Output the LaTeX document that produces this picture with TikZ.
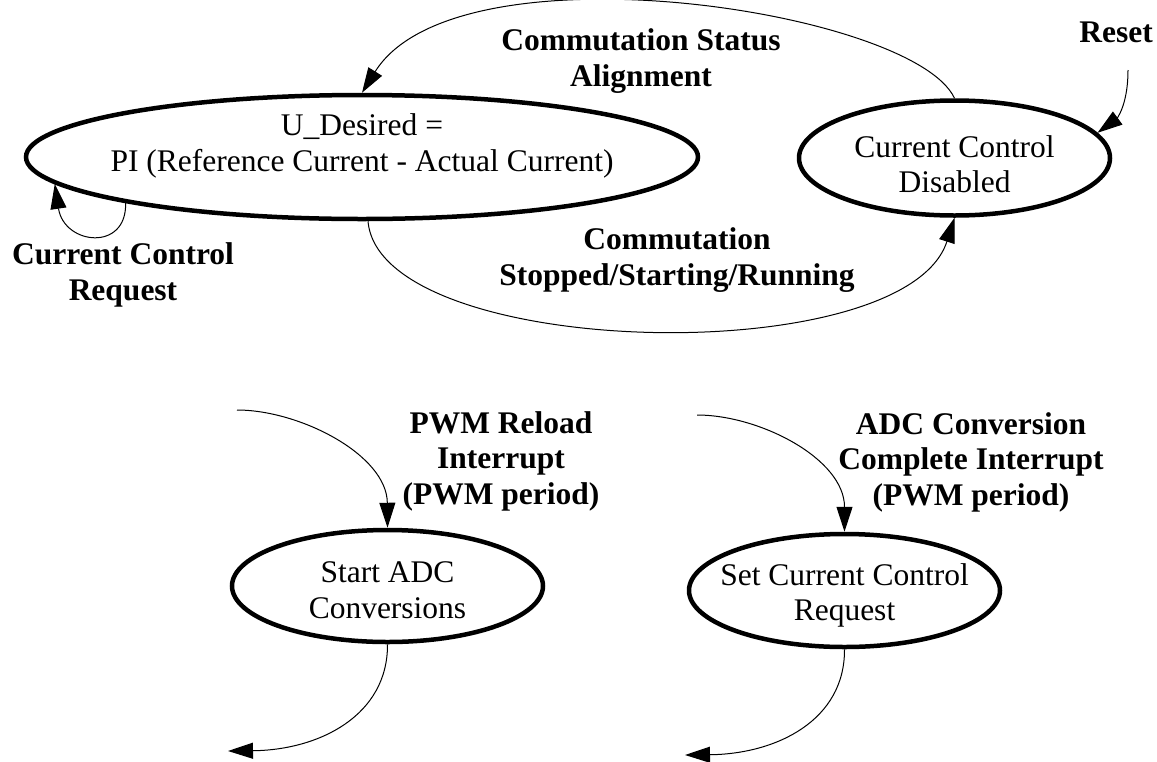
\documentclass[tikz,border=0pt]{standalone}
\usepackage{fontspec}
\setmainfont{Liberation Serif}
\usetikzlibrary{shapes.geometric,arrows.meta}
\begin{document}
\begin{tikzpicture}[x=1pt,y=-1pt,
  state/.style={ellipse, draw, line width=4.5pt, inner sep=0pt, minimum width=311pt},
  stxt/.style={font=\fontsize{31.5}{35.5}\selectfont, align=center, inner sep=0pt},
  lbl/.style={font=\fontsize{31.5}{35.5}\selectfont\bfseries, align=center, inner sep=0pt},
  conn/.style={line width=1pt, -{Triangle[length=25pt,width=16pt]}},
  ]
\fill[white] (0,0) rectangle (1157,761);
\path[use as bounding box] (0,0) rectangle (1157,761);

% states
\node[state, minimum width=672pt, minimum height=124pt,
  label={[stxt,yshift=11pt]center:{U\_Desired =\\PI (Reference Current - Actual Current)}}] (E1) at (362,157) {};
\node[state, minimum height=115pt,
  label={[stxt,yshift=-6pt]center:{Current Control\\Disabled}}] (E2) at (954.5,158) {};
\node[state, minimum height=112pt,
  label={[stxt,yshift=-4pt]center:{Start ADC\\Conversions}}] (E3) at (387.5,586) {};
\node[state, minimum height=113pt,
  label={[stxt,yshift=-5pt]center:{Set Current Control\\Request}}] (E4) at (844.5,590.5) {};

% free ends
\coordinate (rs) at (1128,70);
\coordinate (pw) at (237,410);
\coordinate (ad) at (697,415);
\coordinate (e3out) at (228,751);
\coordinate (e4out) at (685,755);

% connectors
\draw[conn] (E2.north) .. controls (913.5,10) and (456.5,-59) .. (E1.north);
\draw[conn] ([xshift=6pt]E1.south) .. controls (380,360) and (905,372) .. (E2.south);
\draw[conn] (E1.191) .. controls (127,252) and (64,245) .. (E1.185);
\draw[conn] (rs) .. controls (1128,108) and (1115,120) .. (E2.10);
\draw[conn] (pw) .. controls (300,410) and (387,455) .. (E3.north);
\draw[conn] (E3.south) .. controls (388,715) and (320,750) .. (e3out);
\draw[conn] (ad) .. controls (760,415) and (844.5,459) .. (E4.north);
\draw[conn] (E4.south) .. controls (845,720) and (777,754) .. (e4out);

% transition labels
\node[lbl] (l1) at (641,61) {Commutation Status\\Alignment};
\node[lbl] (l2) at (1116,32) {Reset};
\node[lbl] (l3) at (123,275) {Current Control\\Request};
\node[lbl] (l4) at (677,260) {Commutation\\Stopped/Starting/Running};
\node[lbl] (l5) at (501,461) {PWM Reload\\Interrupt\\(PWM period)};
\node[lbl] (l6) at (971,462) {ADC Conversion\\Complete Interrupt\\(PWM period)};
\end{tikzpicture}
\end{document}
